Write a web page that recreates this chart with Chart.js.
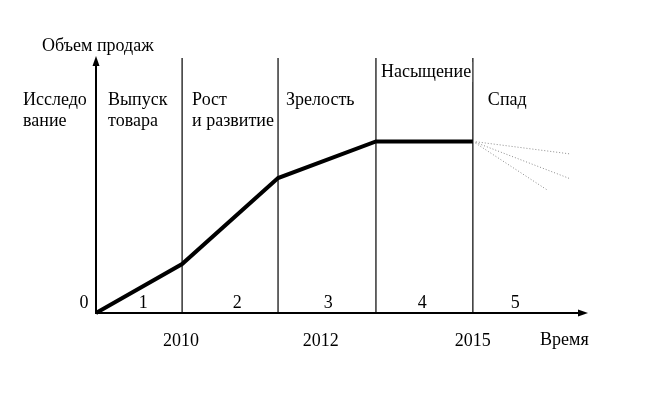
<!DOCTYPE html>
<html>
<head>
<meta charset="utf-8">
<script src="https://cdn.jsdelivr.net/npm/chart.js@4"></script>
<style>
html,body{margin:0;padding:0;background:#fff;}
canvas{display:block;}
</style>
</head>
<body>
<canvas id="c" width="645" height="398"></canvas>
<script>
// ---- data (time units 0..100, sales units 0..100) ----
const stageBounds = [17.5, 37.0, 56.9, 76.6];
const salesX = [0, 17.5, 37.0, 56.9, 76.6];
const salesY = [0, 19.2, 52.9, 67.3, 67.3];
const declineStartX = 76.6;
const declineStartY = 67.3;
const declineEndX = [96.3, 96.3, 91.9];
const declineEndY = [62.4, 52.7, 48.0];
const stageNames = [["Исследо", "вание"], ["Выпуск", "товара"], ["Рост", "и развитие"], ["Зрелость"], ["Насыщение"], ["Спад"]];
const stageNumbers = ["1", "2", "3", "4", "5"];
const stageNumberPos = [9.6, 28.7, 47.2, 66.3, 85.2];
const yearLabels = ["2010", "2012", "2015"];
const yearPos = [17.3, 45.7, 76.6];
const yAxisTitle = "Объем продаж";
const xAxisTitle = "Время";
const originLabel = "0";

const FONT = '18px "Liberation Serif", "Times New Roman", serif';

const datasets = [];
datasets.push({
  data: salesX.map((x, i) => ({x: x, y: salesY[i]})),
  borderColor: '#000', borderWidth: 4, pointRadius: 0, tension: 0,
  borderJoinStyle: 'miter', borderCapStyle: 'butt', clip: false, order: 0
});
stageBounds.forEach(b => {
  datasets.push({
    data: [{x: b, y: 0}, {x: b, y: 100}],
    borderColor: '#000', borderWidth: 1.2, pointRadius: 0, clip: false, order: 2
  });
});
declineEndX.forEach((ex, i) => {
  datasets.push({
    data: [{x: declineStartX, y: declineStartY}, {x: ex, y: declineEndY[i]}],
    borderColor: '#8a8a8a', borderWidth: 1, borderDash: [1, 2], pointRadius: 0, clip: false, order: 1
  });
});

const decor = {
  id: 'decor',
  afterDatasetsDraw(chart) {
    const ctx = chart.ctx;
    const xs = chart.scales.x, ys = chart.scales.y;
    const x0 = xs.getPixelForValue(0), y0 = ys.getPixelForValue(0);
    const yTop = ys.getPixelForValue(100) - 2;
    const xEnd = xs.getPixelForValue(100);
    ctx.save();
    ctx.strokeStyle = '#000';
    ctx.fillStyle = '#000';
    // y axis
    ctx.lineWidth = 2;
    ctx.beginPath(); ctx.moveTo(x0, y0 + 1); ctx.lineTo(x0, yTop + 8); ctx.stroke();
    ctx.beginPath(); ctx.moveTo(x0, yTop); ctx.lineTo(x0 - 3.5, yTop + 10); ctx.lineTo(x0 + 3.5, yTop + 10); ctx.closePath(); ctx.fill();
    // x axis
    ctx.beginPath(); ctx.moveTo(x0 - 1, y0); ctx.lineTo(xEnd - 8, y0); ctx.stroke();
    ctx.beginPath(); ctx.moveTo(xEnd, y0); ctx.lineTo(xEnd - 10, y0 - 3.5); ctx.lineTo(xEnd - 10, y0 + 3.5); ctx.closePath(); ctx.fill();

    ctx.font = FONT;
    ctx.textBaseline = 'alphabetic';
    ctx.textAlign = 'left';
    // stage names
    const bpx = [x0].concat(stageBounds.map(b => xs.getPixelForValue(b)));
    const nameX = [23, bpx[0] + 12, bpx[1] + 10, bpx[2] + 8, bpx[3] + 5, bpx[4] + 15];
    const nameY = [105, 105, 105, 105, 77, 105];
    stageNames.forEach((lines, i) => {
      lines.forEach((t, j) => {
        const yy = nameY[i] + j * 21;
        if (i === 4) {
          const w = ctx.measureText(t).width;
          ctx.fillStyle = '#fff';
          ctx.fillRect(nameX[i] - 1, yy - 15, w + 2, 20);
          ctx.fillStyle = '#000';
        }
        ctx.fillText(t, nameX[i], yy);
      });
    });
    // axis titles
    ctx.fillText(yAxisTitle, 42, 51);
    ctx.fillText(xAxisTitle, 540, 345);
    // origin
    ctx.textAlign = 'center';
    ctx.fillText(originLabel, 84, 308);
    // stage numbers
    stageNumbers.forEach((t, i) => ctx.fillText(t, xs.getPixelForValue(stageNumberPos[i]), 308));
    // years
    yearLabels.forEach((t, i) => ctx.fillText(t, xs.getPixelForValue(yearPos[i]), 346));
    ctx.restore();
  }
};

new Chart(document.getElementById('c'), {
  type: 'line',
  data: {datasets: datasets},
  options: {
    responsive: false,
    animation: false,
    devicePixelRatio: 1,
    layout: {padding: {left: 96, right: 57, top: 58, bottom: 85}},
    plugins: {legend: {display: false}, tooltip: {enabled: false}},
    scales: {
      x: {type: 'linear', min: 0, max: 100, display: false},
      y: {type: 'linear', min: 0, max: 100, display: false}
    }
  },
  plugins: [decor]
});
</script>
</body>
</html>
